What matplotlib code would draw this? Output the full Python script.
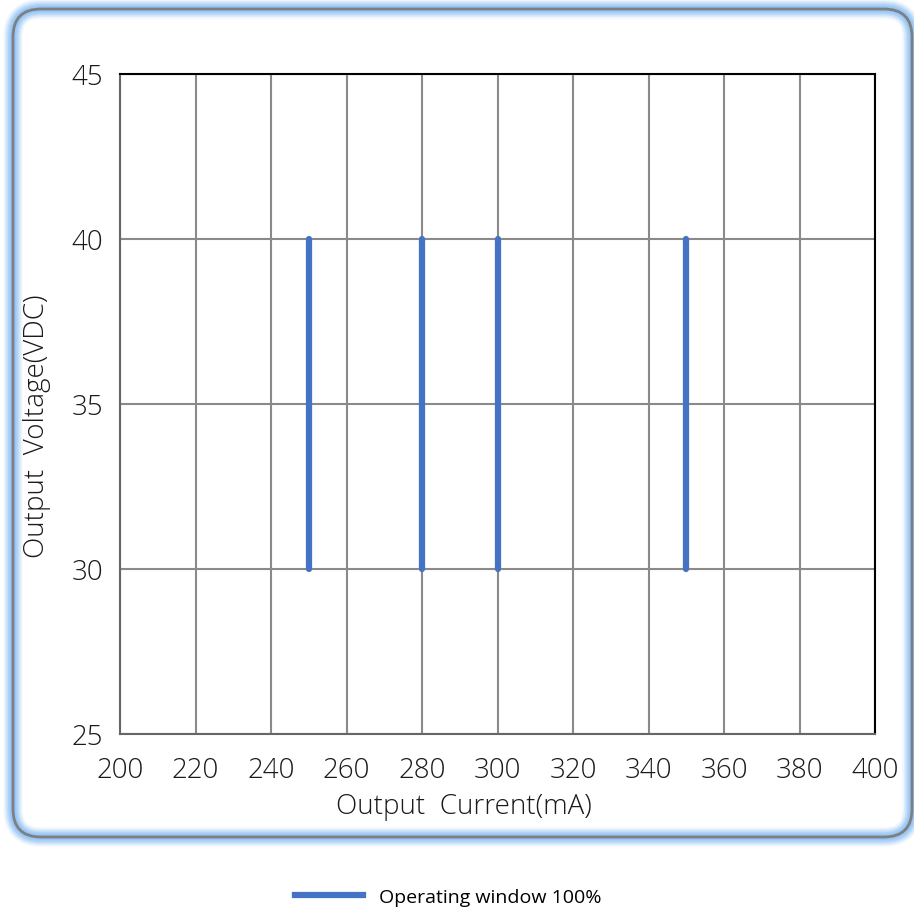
import matplotlib
matplotlib.use("Agg")
import matplotlib.pyplot as plt
from matplotlib.patches import FancyBboxPatch
from matplotlib.lines import Line2D

plt.rcParams['font.family'] = ['Open Sans', 'DejaVu Sans']

currents = [250, 280, 300, 350]
v_low = [30, 30, 30, 30]
v_high = [40, 40, 40, 40]
x_ticks = [200, 220, 240, 260, 280, 300, 320, 340, 360, 380, 400]
y_ticks = [25, 30, 35, 40, 45]
legend_label = "Operating window 100%"
xlabel = "Output  Current(mA)"
ylabel = "Output  Voltage(VDC)"

W, H = 914, 912
fig = plt.figure(figsize=(W / 100, H / 100), dpi=100)

# rounded frame with soft blue glow
x0, y0, x1, y1 = 13, 10, 912, 838
for i, a in enumerate([0.12, 0.22, 0.35, 0.5, 0.7]):
    pad = 6 - i * 1.2
    p = FancyBboxPatch((x0 / W, 1 - y1 / H), (x1 - x0) / W, (y1 - y0) / H,
                       boxstyle=f"round,pad=0,rounding_size={28/W}",
                       transform=fig.transFigure, fill=False,
                       edgecolor='#93c4f5', linewidth=2 * pad + 2, alpha=a, zorder=0)
    fig.patches.append(p)
frame = FancyBboxPatch((x0 / W, 1 - y1 / H), (x1 - x0) / W, (y1 - y0) / H,
                       boxstyle=f"round,pad=0,rounding_size={28/W}",
                       transform=fig.transFigure, fill=False,
                       edgecolor='#7d7f83', linewidth=2.0, zorder=1)
fig.patches.append(frame)

ax = fig.add_axes([120 / W, 1 - 735 / H, (875 - 120) / W, (735 - 75) / H])
ax.set_facecolor('none')
for cx, lo, hi in zip(currents, v_low, v_high):
    ax.plot([cx, cx], [lo, hi], color='#4472C4', linewidth=4.5, solid_capstyle='round', zorder=3)

ax.set_xlim(200, 400)
ax.set_ylim(25, 45)
ax.set_xticks(x_ticks)
ax.set_yticks(y_ticks)
ax.grid(True, color='#8a8a8a', linewidth=1.5)
ax.set_axisbelow(True)
ax.tick_params(length=0, labelsize=20, colors='#1a1a1a')
ax.tick_params(axis='x', pad=16)
ax.tick_params(axis='y', pad=12)
for lab in ax.get_xticklabels() + ax.get_yticklabels():
    lab.set_fontweight('light')
ax.spines['top'].set_color('black')
ax.spines['right'].set_color('black')
ax.spines['left'].set_color('#666666')
ax.spines['bottom'].set_color('#666666')
for s in ax.spines.values():
    s.set_linewidth(1.5)

fig.text(464 / W, 1 - 807 / H, xlabel, fontsize=20, fontweight='light', color='#1a1a1a',
         ha='center', va='center')
fig.text(37 / W, 1 - 426 / H, ylabel, fontsize=20, fontweight='light', color='#1a1a1a',
         ha='center', va='center', rotation=90)

handle = Line2D([], [], color='#4472C4', linewidth=4.5)
fig.legend([handle], [legend_label], loc='center', bbox_to_anchor=(448 / W, 1 - 898 / H),
           frameon=False, fontsize=14, handlelength=3.5, handletextpad=0.8)

fig.savefig("out.png", dpi=100)
